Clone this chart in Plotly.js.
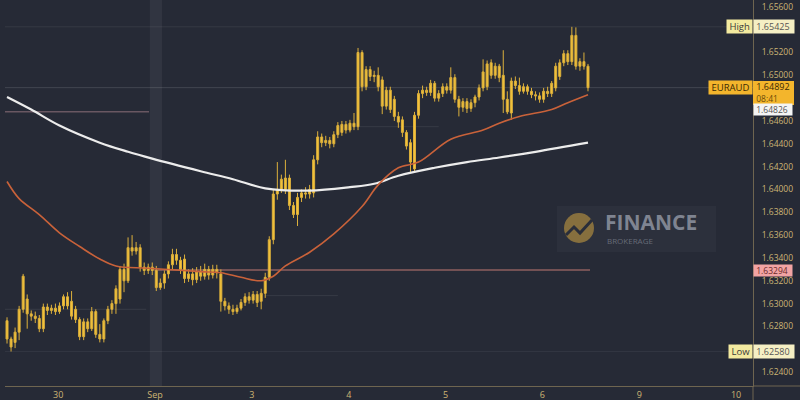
<!DOCTYPE html>
<html>
<head>
<meta charset="utf-8">
<script src="https://cdn.plot.ly/plotly-3.0.1.min.js"></script>
<style>
html,body{margin:0;padding:0;background:#262a36;}
#chart{width:800px;height:400px;}
</style>
</head>
<body>
<div id="chart"></div>
<script>
// ---- Data (EURAUD, 1h candles) ----
const dayLabels = ["30", "Sep", "3", "4", "5", "6", "9", "10"];

const openP = [
1.6285,1.6269,1.6266,1.6275,1.6295,1.6304,1.6291,1.6289,1.6287,1.6278,
1.6297,1.6294,1.6296,1.6293,1.6298,1.6306,1.6302,1.6295,1.6286,1.6271,
1.6284,1.6278,1.6293,1.6273,1.6269,1.6285,1.6295,1.6300,1.6304,1.6330,
1.6320,1.6349,1.6346,1.6349,1.6332,1.6329,1.6332,1.6329,1.6314,1.6318,
1.6326,1.6334,1.6343,1.6338,1.6339,1.6322,1.6326,1.6321,1.6328,1.6324,
1.6330,1.6325,1.6330,1.6326,1.6302,1.6298,1.6295,1.6293,1.6296,1.6301,
1.6306,1.6303,1.6308,1.6302,1.6309,1.6323,1.6356,1.6396,1.6400,1.6400,
1.6410,1.6386,1.6378,1.6393,1.6397,1.6396,1.6397,1.6426,1.6446,1.6441,
1.6443,1.6440,1.6448,1.6450,1.6457,1.6452,1.6458,1.6455,1.6520,1.6490,
1.6505,1.6499,1.6500,1.6496,1.6473,1.6487,1.6479,1.6464,1.6461,1.6450,
1.6441,1.6418,1.6465,1.6484,1.6487,1.6485,1.6493,1.6480,1.6484,1.6490,
1.6487,1.6498,1.6479,1.6472,1.6477,1.6471,1.6476,1.6481,1.6489,1.6490,
1.6511,1.6500,1.6508,1.6500,1.6479,1.6467,1.6495,1.6491,1.6486,1.6490,
1.6486,1.6483,1.6482,1.6479,1.6486,1.6484,1.6489,1.6499,1.6511,1.6519,
1.6512,1.6535,1.6508,1.6512,1.6508];

const highP = [
1.6288,1.6271,1.6279,1.6298,1.6326,1.6308,1.6294,1.6293,1.6290,1.6300,
1.6300,1.6299,1.6300,1.6301,1.6308,1.6310,1.6311,1.6298,1.6288,1.6287,
1.6287,1.6297,1.6295,1.6282,1.6287,1.6298,1.6303,1.6316,1.6333,1.6335,
1.6358,1.6360,1.6354,1.6352,1.6336,1.6335,1.6336,1.6333,1.6322,1.6329,
1.6337,1.6348,1.6348,1.6341,1.6343,1.6330,1.6331,1.6332,1.6333,1.6335,
1.6333,1.6334,1.6334,1.6330,1.6305,1.6301,1.6299,1.6299,1.6304,1.6309,
1.6310,1.6311,1.6311,1.6313,1.6327,1.6359,1.6400,1.6424,1.6413,1.6426,
1.6413,1.6389,1.6397,1.6400,1.6402,1.6404,1.6430,1.6451,1.6449,1.6447,
1.6446,1.6451,1.6459,1.6460,1.6460,1.6461,1.6467,1.6524,1.6522,1.6508,
1.6508,1.6504,1.6507,1.6499,1.6490,1.6490,1.6482,1.6468,1.6464,1.6452,
1.6444,1.6468,1.6487,1.6491,1.6490,1.6496,1.6495,1.6487,1.6493,1.6493,
1.6507,1.6501,1.6482,1.6480,1.6480,1.6479,1.6483,1.6492,1.6514,1.6513,
1.6514,1.6511,1.6510,1.6522,1.6486,1.6498,1.6499,1.6498,1.6493,1.6492,
1.6489,1.6486,1.6485,1.6489,1.6490,1.6495,1.6511,1.6514,1.6522,1.6522,
1.65425,1.6542,1.6515,1.6520,1.6510];

const lowP = [
1.6265,1.6258,1.6261,1.6268,1.6292,1.6278,1.6285,1.6283,1.6275,1.6275,
1.6290,1.6291,1.6290,1.6291,1.6295,1.6295,1.6286,1.6283,1.6268,1.6268,
1.6275,1.6276,1.6270,1.6266,1.6266,1.6282,1.6291,1.6291,1.6300,1.6310,
1.6318,1.6342,1.6343,1.6328,1.6325,1.6326,1.6325,1.6311,1.6312,1.6313,
1.6322,1.6330,1.6334,1.6326,1.6318,1.6319,1.6316,1.6318,1.6320,1.6321,
1.6321,1.6322,1.6322,1.6293,1.6294,1.6291,1.6290,1.6291,1.6294,1.6298,
1.6300,1.6300,1.6297,1.6295,1.6305,1.6320,1.6352,1.6391,1.6397,1.6396,
1.6382,1.6375,1.6368,1.6389,1.6392,1.6392,1.6393,1.6422,1.6437,1.6438,
1.6436,1.6437,1.6445,1.6447,1.6449,1.6450,1.6452,1.6452,1.6486,1.6487,
1.6495,1.6494,1.6486,1.6466,1.6470,1.6467,1.6460,1.6454,1.6446,1.6435,
1.6415,1.6415,1.6462,1.6480,1.6482,1.6482,1.6477,1.6477,1.6481,1.6484,
1.6484,1.6476,1.6464,1.6468,1.6467,1.6468,1.6472,1.6478,1.6486,1.6487,
1.6497,1.6497,1.6494,1.6467,1.6466,1.6461,1.6488,1.6483,1.6484,1.6483,
1.6480,1.6478,1.6476,1.6476,1.6481,1.6481,1.6486,1.6496,1.6508,1.6509,
1.6509,1.6505,1.6504,1.6505,1.6486];

const closeP = [
1.6269,1.6262,1.6275,1.6295,1.6324,1.6291,1.6289,1.6287,1.6278,1.6297,
1.6294,1.6296,1.6293,1.6298,1.6306,1.6298,1.6289,1.6286,1.6271,1.6284,
1.6278,1.6293,1.6273,1.6269,1.6285,1.6295,1.6300,1.6313,1.6330,1.6320,
1.6349,1.6346,1.6349,1.6332,1.6329,1.6332,1.6329,1.6314,1.6318,1.6326,
1.6334,1.6343,1.6338,1.6330,1.6322,1.6326,1.6321,1.6328,1.6324,1.6330,
1.6325,1.6330,1.6327,1.6302,1.6298,1.6295,1.6293,1.6296,1.6301,1.6306,
1.6303,1.6308,1.6301,1.6309,1.6323,1.6356,1.6396,1.6400,1.6409,1.6410,
1.6386,1.6378,1.6393,1.6397,1.6396,1.6400,1.6426,1.6446,1.6441,1.6443,
1.6440,1.6448,1.6456,1.6457,1.6452,1.6458,1.6455,1.6520,1.6490,1.6505,
1.6499,1.6500,1.6490,1.6473,1.6487,1.6470,1.6464,1.6459,1.6450,1.6438,
1.6424,1.6465,1.6484,1.6487,1.6485,1.6493,1.6480,1.6484,1.6490,1.6487,
1.6498,1.6479,1.6472,1.6477,1.6471,1.6476,1.6481,1.6489,1.6503,1.6510,
1.6500,1.6508,1.6498,1.6479,1.6468,1.6495,1.6491,1.6486,1.6490,1.6486,
1.6483,1.6482,1.6479,1.6486,1.6484,1.6493,1.6508,1.6511,1.6519,1.6512,
1.6535,1.6508,1.6512,1.6508,1.64892];

// slow moving average (white), sampled at bar numbers
const slowMaBar = [0,6,13,23,30,36,48,56,64,75,85,91,97,106,114,122,131,144];
const slowMaVal = [1.6481,1.6470,1.6456,1.6441,1.6433,1.6427,1.6416,1.6409,1.6401,1.6399,1.6402,1.6405,1.6412,1.6419,1.6424,1.6428,1.6433,1.6441];

// fast moving average (orange), sampled at bar numbers
const fastMaBar = [0,3,8,13,18,23,27,35,48,53,58,63,66,69,75,81,88,92,97,102,110,118,122,127,135,139,144];
const fastMaVal = [1.6407,1.6392,1.6378,1.6362,1.6350,1.6339,1.6333,1.6331,1.6328,1.6327,1.6323,1.6320,1.6324,1.6333,1.6345,1.6361,1.6385,1.6404,1.6419,1.6424,1.6444,1.6452,1.6458,1.6464,1.6470,1.6476,1.6483];

// price levels shown at the right
const highLevel = 1.65425;
const lastPrice = 1.64892;
const lastTime = "08:41";
const fastMaLast = 1.64826;
const supportLevel = 1.63294;
const lowLevel = 1.62580;
const oldLevel = 1.6468;
const faintLevels = [1.6455, 1.6307, 1.6295];

// axis ticks (those hidden behind the price labels are left out)
const hiddenTicks = [1.654, 1.648, 1.626];
const yTicks = [];
for (let v = 1.624; v <= 1.6561; v += 0.002) {
  const t = +v.toFixed(3);
  if (!hiddenTicks.includes(t)) yTicks.push(t);
}

// ---- Layout helpers ----
const barsPerDay = 24;
const firstDayBar = 12.7;
const xIdx = openP.map((_, i) => i);
const tickPos = dayLabels.map((_, k) => firstDayBar + k * barsPerDay);
const nBars = openP.length;

const candleColor = '#f5c43a';
const traces = [
  {
    type: 'scatter', mode: 'lines', x: slowMaBar, y: slowMaVal,
    line: {color: '#ececec', width: 2.2, shape: 'spline', smoothing: 1.0}, hoverinfo: 'skip'
  },
  {
    type: 'scatter', mode: 'lines', x: fastMaBar, y: fastMaVal,
    line: {color: '#c9623a', width: 1.6, shape: 'spline', smoothing: 1.0}, hoverinfo: 'skip'
  },
  {
    type: 'candlestick', x: xIdx, open: openP, high: highP, low: lowP, close: closeP,
    increasing: {line: {color: '#dcb03c', width: 1}, fillcolor: candleColor},
    decreasing: {line: {color: '#dcb03c', width: 1}, fillcolor: candleColor},
    whiskerwidth: 0, hoverinfo: 'skip'
  }
];

const xMin = -0.5, xMax = 184.9;
// pixel -> paper helpers for the right-hand label boxes
const PL = 5, PW = 748, PT = 0, PH = 386;
const px = v => (v - PL) / PW;
const py = v => (PT + PH - v) / PH;

const shapes = [
  // weekend separator band
  {type: 'rect', xref: 'x', yref: 'paper', x0: 35.4, x1: 38.4, y0: 0, y1: 1,
   fillcolor: 'rgba(255,255,255,0.055)', line: {width: 0}, layer: 'below'},
  // faint level lines
  {type: 'line', xref: 'x', yref: 'y', x0: xMin, x1: xMax, y0: highLevel, y1: highLevel,
   line: {color: 'rgba(255,255,255,0.07)', width: 1}, layer: 'below'},
  {type: 'line', xref: 'x', yref: 'y', x0: xMin, x1: xMax, y0: lastPrice, y1: lastPrice,
   line: {color: 'rgba(255,255,255,0.13)', width: 1}, layer: 'below'},
  {type: 'line', xref: 'x', yref: 'y', x0: xMin, x1: xMax, y0: lowLevel, y1: lowLevel,
   line: {color: 'rgba(255,255,255,0.06)', width: 1}, layer: 'below'},
  {type: 'line', xref: 'x', yref: 'y', x0: xMin, x1: 35.2, y0: oldLevel, y1: oldLevel,
   line: {color: 'rgba(215,160,170,0.38)', width: 1.5}, layer: 'below'},
  {type: 'line', xref: 'x', yref: 'y', x0: 36.5, x1: nBars - 0.5, y0: supportLevel, y1: supportLevel,
   line: {color: 'rgba(226,140,130,0.55)', width: 1.5}, layer: 'below'},
  {type: 'line', xref: 'x', yref: 'y', x0: 86, x1: 107, y0: faintLevels[0], y1: faintLevels[0],
   line: {color: 'rgba(255,255,255,0.08)', width: 1}, layer: 'below'},
  {type: 'line', xref: 'x', yref: 'y', x0: 64, x1: 82, y0: faintLevels[1], y1: faintLevels[1],
   line: {color: 'rgba(255,255,255,0.08)', width: 1}, layer: 'below'},
  {type: 'line', xref: 'x', yref: 'y', x0: xMin, x1: 34.5, y0: faintLevels[2], y1: faintLevels[2],
   line: {color: 'rgba(255,255,255,0.08)', width: 1}, layer: 'below'},
  // axis line extensions into the corner
  {type: 'line', xref: 'paper', yref: 'paper', x0: 1, x1: 1.07, y0: 0, y1: 0,
   line: {color: '#6e6550', width: 1}},
  {type: 'line', xref: 'paper', yref: 'paper', x0: 1, x1: 1, y0: 0, y1: -0.04,
   line: {color: '#6e6550', width: 1}},
  // last-price box (two lines)
  {type: 'rect', xref: 'paper', yref: 'paper', x0: px(753), x1: px(794), y0: py(81), y1: py(105),
   fillcolor: '#f3b52c', line: {width: 0}},
  // watermark box
  {type: 'rect', xref: 'paper', yref: 'paper', x0: px(557), x1: px(716), y0: py(206), y1: py(252),
   fillcolor: 'rgba(255,255,255,0.03)', line: {width: 0}},
  {type: 'circle', xref: 'paper', yref: 'paper', x0: px(564), x1: px(594), y0: py(243), y1: py(213),
   fillcolor: 'rgba(150,122,62,0.85)', line: {width: 0}},
  {type: 'path', xref: 'paper', yref: 'paper',
   path: 'M ' + px(566) + ' ' + py(235) + ' L ' + px(574) + ' ' + py(227) + ' L ' + px(580) + ' ' + py(233) + ' L ' + px(592) + ' ' + py(220),
   line: {color: '#2a2e3a', width: 3}}
];

function sideLabel(yv, text, bg, fg, anchor, yshift, size) {
  return {
    xref: 'paper', yref: 'y', x: 1, y: yv, text: text, showarrow: false,
    xanchor: anchor, yanchor: 'middle', yshift: yshift || 0,
    bgcolor: bg, borderpad: 0, font: {family: 'Open Sans', size: size || 8.5, color: fg}
  };
}

const annotations = [
  sideLabel(highLevel, '&nbsp;High&nbsp;', '#f3eaa0', '#3a3a3a', 'right', 0, 9.5),
  sideLabel(highLevel, '&nbsp;1.65425&nbsp;&nbsp;', '#f5efc4', '#555555', 'left', 0, 9),
  sideLabel(lastPrice, '&nbsp;EURAUD&nbsp;', '#f3b52c', '#3b2a05', 'right', 0, 9.5),
  sideLabel(lastPrice, '&nbsp;1.64892', 'rgba(0,0,0,0)', '#3b2a05', 'left', 1, 9),
  sideLabel(lastPrice, '&nbsp;' + lastTime, 'rgba(0,0,0,0)', '#6b4c0a', 'left', -10.5, 8.5),
  sideLabel(fastMaLast, '&nbsp;1.64826&nbsp;&nbsp;', '#f4f4f4', '#555555', 'left', -14.5, 8.5),
  sideLabel(supportLevel, '&nbsp;1.63294&nbsp;&nbsp;', '#f2a3a3', '#6b2a2a', 'left', 0, 8.5),
  sideLabel(lowLevel, '&nbsp;Low&nbsp;', '#f3eaa0', '#3a3a3a', 'right', 0, 9.5),
  sideLabel(lowLevel, '&nbsp;1.62580&nbsp;&nbsp;', '#f5efc4', '#555555', 'left', 0, 9),
  {xref: 'paper', yref: 'paper', x: px(603), y: py(222), xanchor: 'left', yanchor: 'middle',
   text: '<b>FINANCE</b>', showarrow: false,
   font: {family: 'Open Sans', size: 21, color: '#7f8491'}},
  {xref: 'paper', yref: 'paper', x: px(605), y: py(240), xanchor: 'left', yanchor: 'middle',
   text: 'BROKERAGE', showarrow: false,
   font: {family: 'Open Sans', size: 8, color: '#666b77'}}
];

const layout = {
  width: 800, height: 400,
  margin: {l: PL, r: 47, t: PT, b: 14},
  paper_bgcolor: '#262a36', plot_bgcolor: '#262a36',
  showlegend: false,
  xaxis: {
    range: [xMin, xMax], tickmode: 'array', tickvals: tickPos, ticktext: dayLabels,
    showgrid: false, zeroline: false, showline: true, linecolor: '#6e6550', linewidth: 1,
    ticks: '', tickfont: {family: 'Open Sans', size: 9, color: '#cdb574'},
    rangeslider: {visible: false}, fixedrange: true
  },
  yaxis: {
    side: 'right', range: [1.62278, 1.6566], tickmode: 'array', tickvals: yTicks,
    tickformat: '.5f', showgrid: false, zeroline: false, showline: true,
    linecolor: '#6e6550', linewidth: 1, ticks: 'outside', ticklen: 6,
    tickcolor: 'rgba(0,0,0,0)', tickfont: {family: 'Open Sans', size: 8.5, color: '#cdb574'},
    fixedrange: true
  },
  shapes: shapes,
  annotations: annotations
};

Plotly.newPlot('chart', traces, layout, {staticPlot: true, displayModeBar: false});
</script>
</body>
</html>
